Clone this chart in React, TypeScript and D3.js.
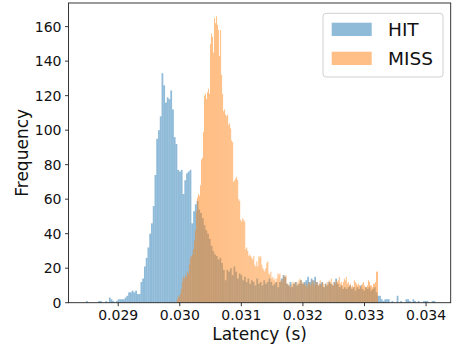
import React from "react";
import * as d3 from "d3";

// histogram edges (seconds), 200 bins per series
const hitRange: [number, number] = [0.02845, 0.03415];
const missRange: [number, number] = [0.029952, 0.03322];

const hitCounts = [
  0, 1, 0, 0, 0, 0, 0, 0, 1, 1, 0, 0, 1, 0, 3, 2, 1, 0, 1, 2,
  2, 2, 2, 3, 4, 6, 6, 7, 6, 7, 5, 5, 12, 14, 21, 26, 32, 40, 46, 56,
  74, 95, 100, 108, 133, 126, 116, 119, 118, 123, 112, 96, 92, 77, 76, 77, 63, 71, 75, 76,
  77, 46, 53, 57, 59, 54, 52, 49, 45, 42, 40, 37, 33, 30, 28, 27, 25, 26, 23, 19,
  13, 19, 18, 20, 16, 21, 18, 14, 17, 16, 13, 15, 12, 14, 11, 13, 12, 10, 14, 11,
  12, 10, 13, 11, 12, 14, 12, 10, 11, 12, 9, 12, 14, 16, 15, 11, 10, 12, 9, 11,
  12, 10, 11, 13, 11, 12, 13, 15, 12, 14, 13, 15, 12, 10, 11, 12, 9, 11, 10, 12,
  11, 10, 12, 14, 11, 9, 10, 8, 9, 8, 9, 10, 8, 9, 7, 9, 8, 10, 8, 7,
  9, 8, 9, 7, 8, 9, 6, 4, 4, 2, 1, 2, 2, 2, 0, 1, 0, 0, 4, 0,
  1, 0, 0, 2, 2, 1, 0, 2, 1, 0, 1, 0, 0, 1, 1, 1, 0, 0, 1, 1,
];

const missCounts = [
  2, 4, 3, 5, 8, 12, 15, 14, 16, 15, 18, 17, 22, 26, 27, 28, 31, 36, 42, 53,
  61, 63, 62, 68, 83, 84, 99, 120, 121, 118, 122, 124, 121, 150, 156, 154, 145, 165, 162, 166,
  161, 158, 143, 158, 132, 121, 111, 112, 109, 108, 109, 103, 104, 101, 94, 93, 70, 71, 72, 73,
  71, 60, 59, 48, 47, 49, 48, 47, 31, 32, 30, 27, 28, 27, 26, 25, 27, 22, 21, 24,
  21, 27, 26, 27, 22, 20, 19, 18, 20, 23, 24, 17, 16, 18, 14, 15, 13, 14, 12, 14,
  17, 16, 17, 13, 12, 14, 16, 15, 16, 11, 10, 11, 9, 10, 11, 12, 11, 12, 10, 12,
  11, 13, 14, 13, 11, 12, 11, 10, 11, 9, 11, 12, 10, 11, 13, 12, 10, 13, 11, 12,
  10, 11, 13, 10, 12, 11, 9, 11, 10, 12, 11, 13, 12, 14, 11, 10, 12, 11, 13, 12,
  13, 15, 11, 12, 10, 12, 14, 13, 15, 11, 12, 10, 11, 9, 10, 9, 13, 12, 11, 10,
  11, 10, 9, 10, 11, 12, 10, 9, 9, 10, 13, 12, 10, 10, 9, 11, 11, 12, 18, 18,
];

const seriesNames = ["HIT", "MISS"];
const seriesColors = ["#1f77b4", "#ff7f0e"];
const xTicks = [0.029, 0.03, 0.031, 0.032, 0.033, 0.034];
const yTicks = [0, 20, 40, 60, 80, 100, 120, 140, 160];

const W = 458;
const H = 344;
const m = { left: 68.5, right: 450.7, top: 3, bottom: 302.7 };
const font = "DejaVu Sans, sans-serif";

function toBins(counts: number[], range: [number, number]) {
  const step = (range[1] - range[0]) / counts.length;
  return counts.map((c, i) => ({ x0: range[0] + i * step, x1: range[0] + (i + 1) * step, c }));
}

export default function App() {
  const x = d3.scaleLinear().domain([0.028193, 0.0344]).range([m.left, m.right]);
  const y = d3.scaleLinear().domain([0, 173.7]).range([m.bottom, m.top]);

  const series = [toBins(hitCounts, hitRange), toBins(missCounts, missRange)];

  return (
    <svg width={W} height={H} style={{ position: "absolute", left: 0, top: 0 }} fontFamily={font}>
      <rect x={0} y={0} width={W} height={H} fill="white" />
      {series.map((bins, s) => (
        <g key={s} fill={seriesColors[s]} fillOpacity={0.5}>
          {bins
            .filter((b) => b.c > 0)
            .map((b, i) => (
              <rect
                key={i}
                x={x(b.x0)}
                width={x(b.x1) - x(b.x0)}
                y={y(b.c)}
                height={y(0) - y(b.c)}
              />
            ))}
        </g>
      ))}

      {/* frame */}
      <rect
        x={m.left}
        y={m.top}
        width={m.right - m.left}
        height={m.bottom - m.top}
        fill="none"
        stroke="#222"
        strokeWidth={0.9}
      />

      {/* x axis */}
      {xTicks.map((t) => (
        <g key={t} transform={`translate(${x(t)},${m.bottom})`}>
          <line y2={3.5} stroke="#222" strokeWidth={0.9} />
          <text y={17.5} textAnchor="middle" fontSize={14} fill="#111">
            {d3.format(".3f")(t)}
          </text>
        </g>
      ))}
      <text x={(m.left + m.right) / 2} y={339.5} textAnchor="middle" fontSize={17} fill="#111">
        Latency (s)
      </text>

      {/* y axis */}
      {yTicks.map((t) => (
        <g key={t} transform={`translate(${m.left},${y(t)})`}>
          <line x2={-3.5} stroke="#222" strokeWidth={0.9} />
          <text x={-7} dy="0.36em" textAnchor="end" fontSize={14} fill="#111">
            {t}
          </text>
        </g>
      ))}
      <text
        transform={`translate(27.5,${(m.top + m.bottom) / 2}) rotate(-90)`}
        textAnchor="middle"
        fontSize={17}
        fill="#111"
      >
        Frequency
      </text>

      {/* legend */}
      <rect x={323} y={13.3} width={120} height={63.7} rx={3} fill="white" fillOpacity={0.8} stroke="#d0d0d0" strokeWidth={1} />
      {seriesNames.map((n, i) => (
        <g key={n} transform={`translate(0,${i * 29})`}>
          <rect x={331.7} y={22.7} width={40} height={13.3} fill={seriesColors[i]} fillOpacity={0.5} />
          <text x={388} y={36} fontSize={18.5} fill="#111">
            {n}
          </text>
        </g>
      ))}
    </svg>
  );
}
